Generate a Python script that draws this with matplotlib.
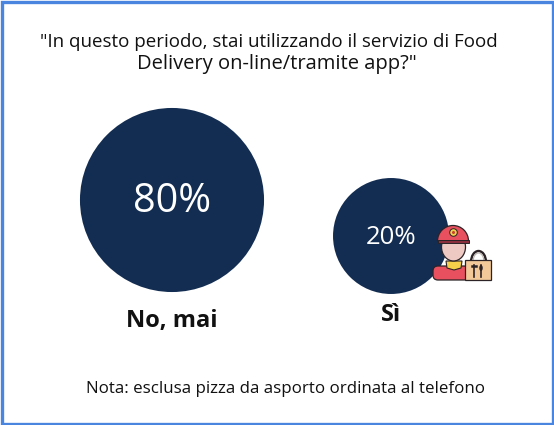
import matplotlib
matplotlib.use('Agg')
import numpy as np
import matplotlib.pyplot as plt
from matplotlib.patches import Circle, Ellipse, Polygon, Rectangle, Wedge, FancyBboxPatch, Arc

title_lines = ['"In questo periodo, stai utilizzando il servizio di Food', 'Delivery on-line/tramite app?"']
note = 'Nota: esclusa pizza da asporto ordinata al telefono'
labels = ['No, mai', 'Sì']
values = [80, 20]
pct_labels = ['80%', '20%']

plt.rcParams['font.family'] = ['Open Sans', 'DejaVu Sans']

navy = '#132d52'
outline = '#2b2326'

fig = plt.figure(figsize=(5.54, 4.25), dpi=100)
ax = fig.add_axes([0, 0, 1, 1])
ax.set_xlim(0, 554)
ax.set_ylim(425, 0)
ax.axis('off')

# bubbles: radius goes with the cube root of the value
xs = [172, 391]
ys = [200, 236]
radii = [21.36 * v ** (1 / 3) for v in values]
sizes = [(2 * r * 0.72) ** 2 for r in radii]
ax.scatter(xs, ys, s=sizes, color=navy, linewidths=0, zorder=2)

ax.text(172, 202, pct_labels[0], color='white', fontsize=28.5, ha='center', va='center', zorder=3)
ax.text(391, 237, pct_labels[1], color='white', fontsize=18.5, ha='center', va='center', zorder=3)
ax.text(172, 321, labels[0], color='#111111', fontsize=17, fontweight='bold', ha='center', va='center')
ax.text(391, 315, labels[1], color='#111111', fontsize=17, fontweight='bold', ha='center', va='center')

ax.text(268.5, 42, title_lines[0], color='#111111', fontsize=13.5, ha='center', va='center')
ax.text(276.5, 64, title_lines[1], color='#111111', fontsize=14.5, ha='center', va='center')
ax.text(285, 389, note, color='#111111', fontsize=12.2, ha='center', va='center')

# delivery icon
z = 5
# body
ax.add_patch(FancyBboxPatch((433, 266), 36, 14, boxstyle='round,pad=0,rounding_size=5', fc='#e8505f', ec=outline, lw=0.9, zorder=z))
# collar
ax.add_patch(Polygon([(446, 261), (462, 261), (461, 268), (454, 270), (447, 268)], fc='#f3cf4a', ec=outline, lw=0.8, zorder=z))
# face
ax.add_patch(Ellipse((453.5, 247), 24, 28, fc='#eec9c3', ec=outline, lw=0.9, zorder=z))
# cap
ax.add_patch(Wedge((453, 241), 15.5, 180, 360, fc='#e8505f', ec=outline, lw=0.9, zorder=z + 1))
ax.add_patch(Rectangle((438, 240), 31, 3, fc='#8a2d3c', ec=outline, lw=0.7, zorder=z + 1))
ax.add_patch(Circle((453.5, 232.5), 3.8, fc='#f3cf4a', ec=outline, lw=0.7, zorder=z + 2))
ax.add_patch(Circle((453.5, 232.5), 1.5, fc='#c8402f', ec='none', zorder=z + 3))
# bag
ax.add_patch(Rectangle((465, 260), 26, 20, fc='#f4c99a', ec=outline, lw=0.9, zorder=z + 2))
ax.add_patch(Arc((478.5, 262), 15, 22, theta1=180, theta2=360, ec=outline, lw=1.7, zorder=z + 1))
ax.add_patch(Arc((478.5, 262), 11, 18, theta1=180, theta2=360, ec='#b9b2ac', lw=0.8, zorder=z + 1))
ax.plot([474, 474], [265, 277], color=outline, lw=1.2, zorder=z + 3)
ax.plot([472, 476], [266, 266], color=outline, lw=1.8, zorder=z + 3)
ax.plot([481, 481], [265, 277], color=outline, lw=1.2, zorder=z + 3)
ax.add_patch(Ellipse((481, 268), 3.5, 6, fc=outline, ec='none', zorder=z + 3))

# frame
ax.add_patch(Rectangle((1.5, 1.5), 551, 422, fill=False, ec='#4a86e0', lw=2.4, zorder=10, clip_on=False))

fig.savefig('out.png', dpi=100)
